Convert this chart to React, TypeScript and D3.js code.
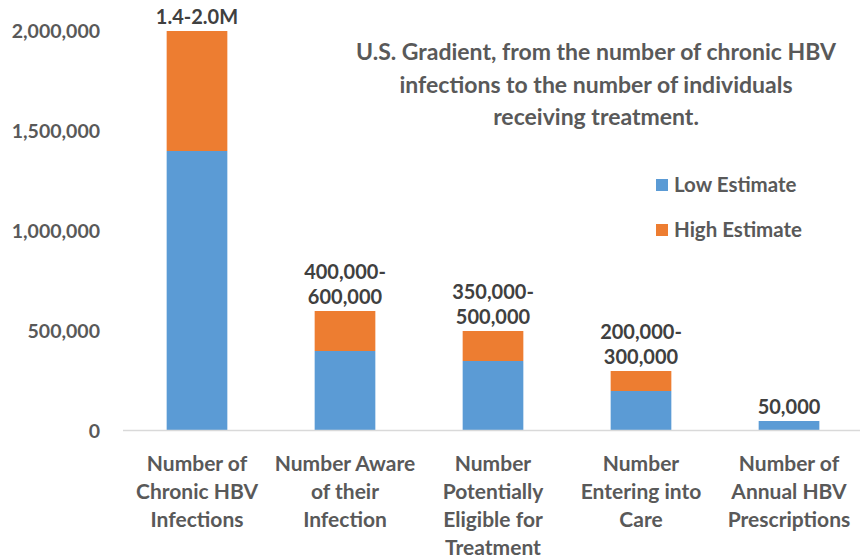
import React from "react";
import * as d3 from "d3";

const categories: string[][] = [
  ["Number of", "Chronic HBV", "Infections"],
  ["Number Aware", "of their", "Infection"],
  ["Number", "Potentially", "Eligible for", "Treatment"],
  ["Number", "Entering into", "Care"],
  ["Number of", "Annual HBV", "Prescriptions"],
];
const lowEstimate = [1400000, 400000, 350000, 200000, 50000];
const highEstimate = [2000000, 600000, 500000, 300000, 50000];
const dataLabels: string[][] = [
  ["1.4-2.0M"],
  ["400,000-", "600,000"],
  ["350,000-", "500,000"],
  ["200,000-", "300,000"],
  ["50,000"],
];
const yTicks = [0, 500000, 1000000, 1500000, 2000000];
const titleLines = [
  "U.S. Gradient, from the number of chronic HBV",
  "infections to the number of individuals",
  "receiving treatment.",
];
const seriesNames = ["Low Estimate", "High Estimate"];
const colors = ["#5B9BD5", "#ED7D31"];

const W = 860;
const H = 559;
const FONT = "Lato, 'Open Sans', sans-serif";
const TEXT = "#595959";

export default function App() {
  const x = d3
    .scaleBand<number>()
    .domain(d3.range(categories.length))
    .range([123, 863])
    .paddingInner(0.59)
    .paddingOuter(0.295);
  const y = d3.scaleLinear().domain([0, 2000000]).range([431, 31]);
  const fmt = d3.format(",");

  return (
    <svg
      width={W}
      height={H}
      style={{ position: "absolute", left: 0, top: 0, background: "#fff" }}
      fontFamily={FONT}
      fontWeight="bold"
    >
      {/* y tick labels */}
      {yTicks.map((t) => (
        <text
          key={t}
          x={100}
          y={y(t)}
          dy="0.36em"
          textAnchor="end"
          fontSize={19.5}
          fill={TEXT}
        >
          {fmt(t)}
        </text>
      ))}
      {/* bars */}
      {categories.map((_, i) => {
        const x0 = x(i)!;
        const bw = x.bandwidth();
        return (
          <g key={i}>
            <rect
              x={x0}
              y={y(lowEstimate[i])}
              width={bw}
              height={y(0) - y(lowEstimate[i])}
              fill={colors[0]}
            />
            {highEstimate[i] > lowEstimate[i] && (
              <rect
                x={x0}
                y={y(highEstimate[i])}
                width={bw}
                height={y(lowEstimate[i]) - y(highEstimate[i])}
                fill={colors[1]}
              />
            )}
          </g>
        );
      })}
      {/* axis line */}
      <line x1={123} x2={860} y1={y(0) - 0.5} y2={y(0) - 0.5} stroke="#D9D9D9" strokeWidth={1.5} />
      {/* data labels */}
      {dataLabels.map((lines, i) => {
        const cx = x(i)! + x.bandwidth() / 2;
        const top = y(Math.max(highEstimate[i], lowEstimate[i]));
        return lines.map((l, j) => (
          <text
            key={`${i}-${j}`}
            x={cx}
            y={top - 14 - (lines.length - 1 - j) * 25}
            dy="0.36em"
            textAnchor="middle"
            fontSize={20}
            fill="#404040"
          >
            {l}
          </text>
        ));
      })}
      {/* category labels */}
      {categories.map((lines, i) => {
        const cx = x(i)! + x.bandwidth() / 2;
        return lines.map((l, j) => (
          <text
            key={`c${i}-${j}`}
            x={cx}
            y={463 + j * 28.3}
            dy="0.36em"
            textAnchor="middle"
            fontSize={21}
            fill={TEXT}
          >
            {l}
          </text>
        ));
      })}
      {/* title */}
      {titleLines.map((l, j) => (
        <text
          key={`t${j}`}
          x={596}
          y={52 + j * 32.5}
          dy="0.36em"
          textAnchor="middle"
          fontSize={23}
          fill={TEXT}
        >
          {l}
        </text>
      ))}
      {/* legend */}
      {seriesNames.map((s, j) => (
        <g key={s} transform={`translate(656, ${185 + j * 45})`}>
          <rect x={0} y={-6} width={12} height={12} fill={colors[j]} />
          <text x={18} y={0} dy="0.36em" fontSize={20.5} fill={TEXT}>
            {s}
          </text>
        </g>
      ))}
    </svg>
  );
}
